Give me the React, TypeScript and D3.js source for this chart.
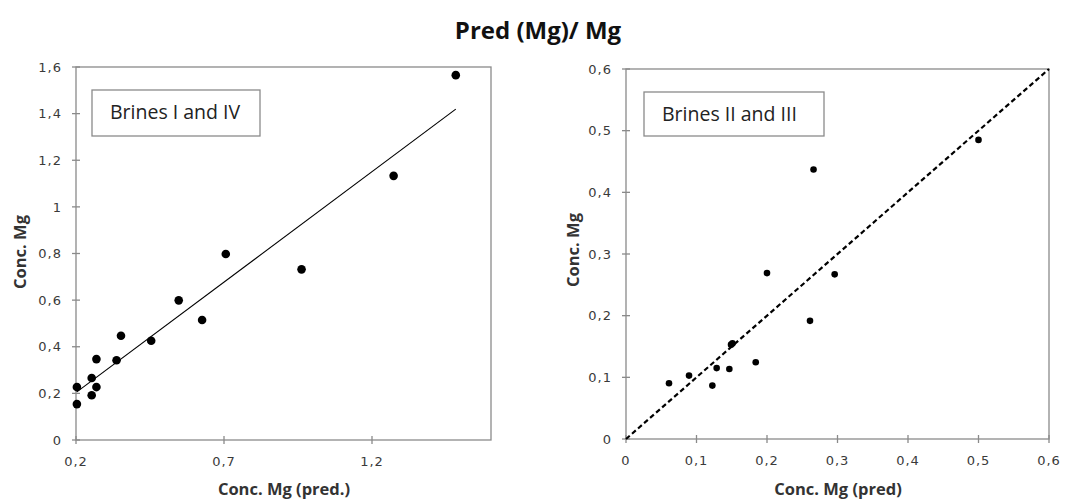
import React from "react";
import * as d3 from "d3";

const title = "Pred (Mg)/ Mg";

// Left panel: Brines I and IV
const leftX = [1.483, 1.273, 0.706, 0.962, 0.547, 0.626, 0.454, 0.352, 0.337, 0.269, 0.253, 0.269, 0.253, 0.203, 0.203];
const leftY = [1.565, 1.133, 0.798, 0.732, 0.599, 0.515, 0.426, 0.447, 0.342, 0.347, 0.266, 0.227, 0.192, 0.227, 0.154];
const leftXTicks = [0.2, 0.7, 1.2];
const leftYTicks = [0, 0.2, 0.4, 0.6, 0.8, 1, 1.2, 1.4, 1.6];

// Right panel: Brines II and III
const rightX = [0.266, 0.5, 0.2, 0.296, 0.261, 0.151, 0.149, 0.184, 0.1466, 0.1286, 0.1225, 0.0894, 0.061];
const rightY = [0.437, 0.485, 0.269, 0.267, 0.1916, 0.155, 0.153, 0.1245, 0.1136, 0.115, 0.0866, 0.1028, 0.0904];
const rightXTicks = [0, 0.1, 0.2, 0.3, 0.4, 0.5, 0.6];
const rightYTicks = [0, 0.1, 0.2, 0.3, 0.4, 0.5, 0.6];
const identityLine = [0, 0.6];

const FONT = "'Open Sans', Lato, sans-serif";
const TICKFONT = "'DejaVu Sans', Verdana, sans-serif";
const fmt = (v: number) => String(+v.toFixed(2)).replace(".", ",");

function linReg(xs: number[], ys: number[]) {
  const mx = d3.mean(xs)!, my = d3.mean(ys)!;
  let sxy = 0, sxx = 0;
  xs.forEach((x, i) => { sxy += (x - mx) * (ys[i] - my); sxx += (x - mx) ** 2; });
  const b = sxy / sxx;
  return { a: my - b * mx, b };
}

type PanelProps = {
  x0: number; x1: number; y0: number; y1: number;
  xDomain: [number, number]; yDomain: [number, number];
  xs: number[]; ys: number[]; xTicks: number[]; yTicks: number[];
  r: number; legend: string; legendBox: [number, number, number, number];
  xLabel: string; xLabelX: number; yLabelX: number; yLabelY: number;
  mode: "trend" | "identity";
};

function Panel(p: PanelProps) {
  const x = d3.scaleLinear().domain(p.xDomain).range([p.x0, p.x1]);
  const y = d3.scaleLinear().domain(p.yDomain).range([p.y1, p.y0]);
  const line = d3.line<[number, number]>().x(d => x(d[0])).y(d => y(d[1]));
  let path = "";
  if (p.mode === "trend") {
    const { a, b } = linReg(p.xs, p.ys);
    const [mn, mx] = d3.extent(p.xs) as [number, number];
    path = line([[mn, a + b * mn], [mx, a + b * mx]])!;
  } else {
    path = line(identityLine.map(v => [v, v] as [number, number]))!;
  }
  const axisColor = "#8a8a8a";
  return (
    <g>
      <rect x={p.x0} y={p.y0} width={p.x1 - p.x0} height={p.y1 - p.y0} fill="none" stroke={axisColor} strokeWidth={1.3} />
      {p.yTicks.map(t => (
        <g key={"y" + t}>
          <line x1={p.x0 - 4} x2={p.x0 + 4} y1={y(t)} y2={y(t)} stroke={axisColor} strokeWidth={1.3} />
          <text x={p.x0 - 14} y={y(t)} dy="0.36em" textAnchor="end" fontSize={13} letterSpacing={1} fill="#3a3a3a" fontFamily={TICKFONT}>{fmt(t)}</text>
        </g>
      ))}
      {p.xTicks.map(t => (
        <g key={"x" + t}>
          <line x1={x(t)} x2={x(t)} y1={p.y1 - 4} y2={p.y1 + 4} stroke={axisColor} strokeWidth={1.3} />
          <text x={x(t)} y={p.y1 + 26} textAnchor="middle" fontSize={13} letterSpacing={1} fill="#3a3a3a" fontFamily={TICKFONT}>{fmt(t)}</text>
        </g>
      ))}
      <path d={path} fill="none" stroke="#000" strokeWidth={p.mode === "trend" ? 1.1 : 2.2}
        strokeDasharray={p.mode === "identity" ? "5,3" : undefined} />
      {p.xs.map((v, i) => (
        <circle key={i} cx={x(v)} cy={y(p.ys[i])} r={p.r} fill="#000" />
      ))}
      <rect x={p.legendBox[0]} y={p.legendBox[1]} width={p.legendBox[2]} height={p.legendBox[3]} fill="#fff" stroke={axisColor} strokeWidth={1.3} />
      <text x={p.legendBox[0] + 18} y={p.legendBox[1] + 29} fontSize={19.5} fill="#222" fontFamily={FONT}>{p.legend}</text>
      <text x={p.xLabelX} y={495} textAnchor="middle" fontSize={16.5} fontWeight="bold" fill="#333" fontFamily={FONT}>{p.xLabel}</text>
      <text transform={`translate(${p.yLabelX},${p.yLabelY}) rotate(-90)`} textAnchor="middle" fontSize={16.5} fontWeight="bold" fill="#333" fontFamily={FONT}>Conc. Mg</text>
    </g>
  );
}

export default function App() {
  return (
    <svg width={1072} height={502} style={{ position: "absolute", left: 0, top: 0, background: "#fff" }}>
      <rect width={1072} height={502} fill="#fff" />
      <text x={538} y={39} textAnchor="middle" fontSize={24} fontWeight="bold" fill="#111" fontFamily={FONT}>{title}</text>
      <Panel x0={76} x1={491} y0={67} y1={440} xDomain={[0.2, 1.602]} yDomain={[0, 1.6]}
        xs={leftX} ys={leftY} xTicks={leftXTicks} yTicks={leftYTicks} r={4.3}
        legend="Brines I and IV" legendBox={[92, 90, 168, 46]}
        xLabel="Conc. Mg (pred.)" xLabelX={284} yLabelX={26} yLabelY={252} mode="trend" />
      <Panel x0={626} x1={1049} y0={69} y1={439} xDomain={[0, 0.6]} yDomain={[0, 0.6]}
        xs={rightX} ys={rightY} xTicks={rightXTicks} yTicks={rightYTicks} r={3.3}
        legend="Brines II and III" legendBox={[644, 92, 180, 44]}
        xLabel="Conc. Mg (pred)" xLabelX={838} yLabelX={579} yLabelY={250} mode="identity" />
    </svg>
  );
}
